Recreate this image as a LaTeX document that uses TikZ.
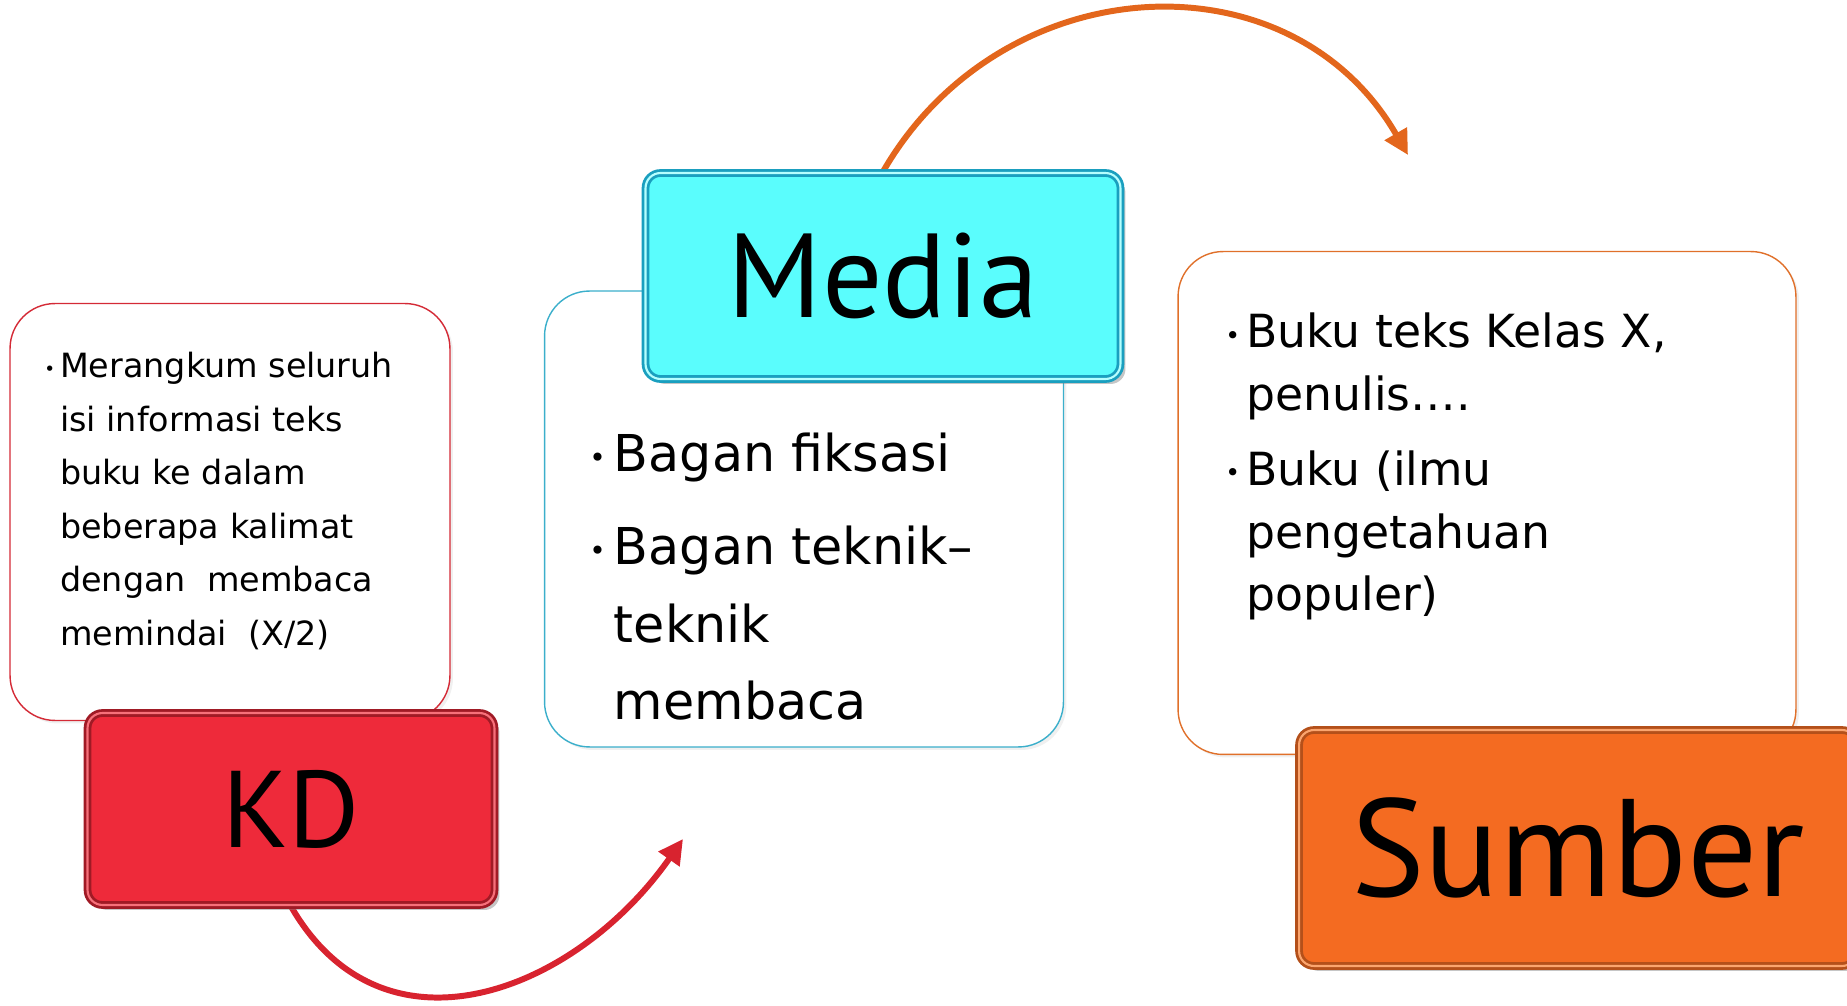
\documentclass[tikz,border=0pt]{standalone}
\usepackage{fontspec}
\setmainfont{PT Sans}
\newfontfamily\bodyfont{DejaVu Sans}
\usepackage{graphicx}
\usetikzlibrary{arrows.meta}
\usetikzlibrary{shadows}
\usetikzlibrary{backgrounds}
\definecolor{kdred}{HTML}{EE2A3A}
\definecolor{kddark}{HTML}{A01A25}
\definecolor{kdlight}{HTML}{F7707A}
\definecolor{kdline}{HTML}{D42A36}
\definecolor{mediacyan}{HTML}{5AFDFD}
\definecolor{mediadark}{HTML}{1A9FBF}
\definecolor{medialight}{HTML}{B5FFFF}
\definecolor{medialine}{HTML}{3BAFCB}
\definecolor{sumberorange}{HTML}{F46B21}
\definecolor{sumberdark}{HTML}{B4501A}
\definecolor{sumberlight}{HTML}{FBA56E}
\definecolor{sumberline}{HTML}{E0702A}
\definecolor{redarrow}{HTML}{D8232F}
\definecolor{orangearrow}{HTML}{E3661C}
\newcommand{\dotitem}{\raisebox{0.15ex}{\scalebox{0.55}{\textbullet}}}
\newcommand{\infonode}[4]{\node(#1)[infobox, #2] at (#3) {#4}}
\newcommand{\tagnode}[4]{\node(#1)[tag, #2] at (#3) {#4}}

\begin{document}
\begin{tikzpicture}[
        x=0.02cm, y=0.02cm,
        infobox/.style={rectangle, rounded corners=0.9cm, fill=white, line width=0.8pt,
                        drop shadow={opacity=0.12, shadow xshift=0.06cm, shadow yshift=-0.06cm}},
        tag/.style={rectangle, rounded corners=0.3cm, line width=1.6pt, double distance=1.2pt,
                    drop shadow={opacity=0.45, shadow xshift=0.1cm, shadow yshift=-0.1cm}},
        itemlist/.style={anchor=base west, inner sep=0pt},
        curved/.style={line width=3.4pt, -{Triangle[length=14pt, width=14pt]}}
      ]
      \useasboundingbox (0,0) rectangle (1847,1005);

      \infonode{kdbox}{draw=kdline, minimum width=8.8cm, minimum height=8.34cm}{230,493}{};
      \infonode{mediabox}{draw=medialine, minimum width=10.38cm, minimum height=9.12cm}{804,486}{};
      \infonode{sumberbox}{draw=sumberline, minimum width=12.36cm, minimum height=10.06cm}{1487,502}{};

      \node(kdlist)[itemlist, font=\bodyfont\fontsize{19pt}{30.4pt}\selectfont] at (44,627) {%
        \begin{tabular}[t]{@{}p{9pt}@{}l@{}}
          \dotitem & Merangkum seluruh\\
                   & isi informasi teks\\
                   & buku ke dalam\\
                   & beberapa kalimat\\
                   & dengan\ \ membaca\\
                   & memindai\ \ (X/2)
        \end{tabular}};
      \node(medialist)[itemlist, font=\bodyfont\fontsize{28.9pt}{44.2pt}\selectfont] at (589,533) {%
        \begin{tabular}[t]{@{}p{14pt}@{}l@{}}
          \dotitem & Bagan fiksasi\\[8.5pt]
          \dotitem & Bagan teknik–\\
                   & teknik\\
                   & membaca
        \end{tabular}};
      \node(sumberlist)[itemlist, font=\bodyfont\fontsize{26pt}{35.7pt}\selectfont] at (1225,657) {%
        \begin{tabular}[t]{@{}p{12pt}@{}l@{}}
          \dotitem & Buku teks Kelas X,\\
                   & penulis….\\[6.8pt]
          \dotitem & Buku (ilmu\\
                   & pengetahuan\\
                   & populer)
        \end{tabular}};

      \tagnode{kdtag}{draw=kddark, double=kdlight, fill=kdred, minimum width=8.14cm, minimum height=3.84cm,
               font=\fontsize{62pt}{62pt}\selectfont}{291,196}{KD};
      \tagnode{mediatag}{draw=mediadark, double=medialight, fill=mediacyan, minimum width=9.5cm, minimum height=4.12cm,
               font=\fontsize{68pt}{68pt}\selectfont}{883,729}{Media};
      \tagnode{sumbertag}{draw=sumberdark, double=sumberlight, fill=sumberorange, minimum width=11.16cm, minimum height=4.72cm,
               font=\fontsize{79pt}{79pt}\selectfont}{1578,157}{Sumber};

      \coordinate (redtip) at (683,166);
      \coordinate (orangetip) at (1408,850);
      \begin{scope}[on background layer]
        \draw[curved, redarrow] (kdtag.south) to[out=-60, in=-125, looseness=1.2] (redtip);
        \draw[curved, orangearrow] (mediatag.north) to[out=60, in=120, looseness=1.15] (orangetip);
      \end{scope}
    \end{tikzpicture}
\end{document}
